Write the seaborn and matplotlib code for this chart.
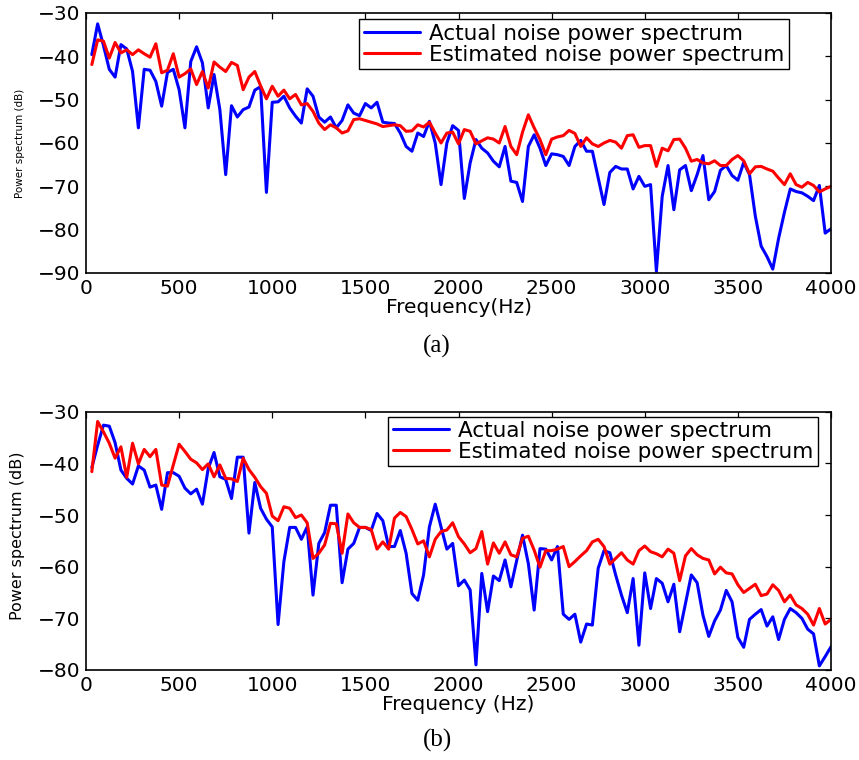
import numpy as np
import pandas as pd
import matplotlib
matplotlib.use("Agg")
import matplotlib.pyplot as plt
import seaborn as sns

# FFT bin centres, 31.25 Hz spacing up to 4 kHz
freq_hz = np.arange(1, 129) * 31.25

# (a) noise power spectra in dB
actual_a = [
    -39.6, -32.5, -37.5, -43.0, -44.8, -37.3, -38.3, -43.5, -56.5, -43.0,
    -43.2, -45.8, -51.5, -43.7, -43.0, -47.7, -56.5, -41.2, -37.8, -41.5,
    -51.9, -44.2, -52.3, -67.3, -51.4, -54.0, -52.3, -51.7, -47.8, -47.0,
    -71.4, -50.6, -50.5, -49.2, -51.9, -53.8, -55.4, -47.5, -49.2, -54.0,
    -55.2, -54.0, -56.5, -54.8, -51.2, -53.1, -53.7, -50.9, -51.9, -50.6,
    -55.2, -55.4, -55.5, -57.7, -60.8, -61.9, -57.7, -58.5, -55.0, -60.0,
    -69.6, -60.0, -56.0, -57.1, -72.8, -64.6, -59.2, -61.2, -62.3, -64.2,
    -65.5, -60.8, -68.8, -69.1, -73.5, -60.8, -58.1, -61.2, -65.2, -62.5,
    -62.7, -63.1, -65.2, -60.8, -59.4, -61.9, -61.9, -68.0, -74.2, -66.8,
    -65.4, -66.0, -66.0, -70.6, -67.7, -70.0, -69.6, -89.6, -72.3, -65.2,
    -75.4, -66.2, -65.2, -71.0, -67.3, -62.9, -73.1, -71.2, -66.3, -65.2,
    -67.5, -68.6, -64.5, -67.3, -76.9, -83.8, -86.2, -89.1, -82.0, -76.0,
    -70.6, -71.2, -71.5, -72.3, -73.3, -69.8, -80.8, -79.8,
]
estimated_a = [
    -41.9, -36.2, -36.5, -40.4, -36.8, -39.2, -38.5, -39.6, -38.5, -39.4,
    -40.2, -37.1, -43.8, -43.2, -39.4, -44.8, -44.0, -42.9, -46.5, -43.5,
    -47.3, -41.3, -42.5, -43.5, -41.4, -42.1, -47.7, -44.8, -43.5, -46.8,
    -49.8, -46.9, -49.2, -47.8, -49.8, -48.8, -51.2, -50.9, -52.7, -55.4,
    -56.9, -55.8, -56.5, -57.7, -57.2, -54.6, -54.4, -54.8, -55.2, -55.6,
    -56.2, -56.0, -55.8, -56.0, -57.3, -57.2, -55.8, -56.3, -55.2, -57.7,
    -60.0, -57.7, -57.5, -60.2, -56.9, -57.3, -60.2, -59.5, -58.8, -59.1,
    -60.0, -56.2, -60.8, -62.7, -57.5, -53.5, -56.5, -59.2, -62.7, -59.1,
    -58.6, -58.3, -57.1, -57.8, -60.8, -58.8, -60.2, -60.8, -60.0, -59.4,
    -59.8, -61.2, -58.3, -58.1, -61.0, -60.6, -60.6, -65.4, -61.2, -61.8,
    -59.2, -59.1, -61.2, -64.2, -63.8, -64.6, -64.8, -64.1, -65.2, -65.2,
    -63.8, -62.9, -64.1, -67.1, -65.5, -65.4, -66.0, -66.5, -68.1, -69.6,
    -67.1, -69.6, -70.2, -69.1, -69.8, -71.3, -70.6, -70.0,
]

# (b) noise power spectra in dB
actual_b = [
    -40.8, -36.5, -32.6, -32.8, -36.0, -41.3, -42.9, -44.0, -40.5, -41.3,
    -44.6, -44.2, -48.9, -41.8, -41.8, -42.5, -44.8, -45.9, -45.0, -47.9,
    -41.0, -37.9, -42.6, -43.1, -46.8, -38.8, -38.8, -53.5, -43.7, -48.7,
    -50.8, -52.3, -71.2, -59.0, -52.4, -52.4, -54.7, -52.3, -65.5, -55.5,
    -53.4, -48.1, -48.1, -63.1, -56.6, -55.5, -52.4, -52.4, -53.0, -49.7,
    -51.1, -56.1, -56.1, -53.0, -57.4, -65.2, -66.5, -61.6, -52.3, -47.9,
    -52.3, -56.6, -55.5, -63.7, -62.6, -64.5, -79.0, -61.3, -68.7, -61.8,
    -62.7, -58.7, -63.9, -58.8, -53.9, -59.4, -68.4, -56.5, -56.6, -58.7,
    -56.1, -69.2, -70.2, -69.2, -74.6, -71.1, -71.3, -60.3, -56.9, -57.3,
    -61.6, -65.5, -68.9, -62.3, -75.2, -61.2, -68.1, -62.3, -63.2, -66.8,
    -63.4, -72.6, -67.1, -61.6, -63.1, -69.4, -73.5, -70.5, -68.4, -64.6,
    -66.8, -73.7, -75.6, -70.2, -69.2, -68.3, -71.5, -69.7, -74.1, -70.2,
    -68.1, -68.9, -70.0, -72.1, -73.0, -79.2, -77.4, -75.5,
]
estimated_b = [
    -41.6, -31.9, -33.9, -36.1, -39.0, -36.8, -42.7, -36.1, -40.1, -37.3,
    -38.7, -37.3, -44.2, -44.4, -40.3, -36.3, -37.7, -39.2, -39.9, -41.2,
    -40.1, -42.6, -40.3, -42.9, -43.0, -43.5, -39.0, -41.2, -42.7, -44.5,
    -45.8, -50.2, -51.1, -48.4, -48.7, -50.5, -50.0, -51.5, -58.4, -57.4,
    -55.8, -51.6, -51.7, -57.4, -49.8, -51.5, -52.4, -52.4, -52.8, -56.6,
    -55.2, -56.6, -50.6, -49.5, -50.3, -52.8, -55.6, -55.0, -58.1, -54.7,
    -53.2, -52.9, -51.5, -54.2, -55.6, -57.3, -56.5, -53.2, -59.5, -55.4,
    -57.4, -55.2, -57.7, -58.1, -54.5, -54.1, -56.8, -60.1, -56.9, -56.9,
    -56.6, -56.1, -60.0, -59.0, -57.9, -56.9, -55.2, -54.7, -56.1, -59.5,
    -58.4, -57.3, -58.7, -59.5, -56.9, -56.0, -57.1, -57.5, -58.1, -56.6,
    -57.4, -62.7, -57.9, -56.5, -57.7, -58.4, -58.7, -61.4, -60.1, -61.2,
    -61.4, -63.5, -65.0, -64.2, -63.4, -65.6, -65.3, -63.5, -64.6, -66.8,
    -65.5, -67.4, -68.1, -69.2, -71.3, -68.1, -71.1, -70.2,
]

series_names = ["Actual noise power spectrum", "Estimated noise power spectrum"]
series_colors = ["#0000ff", "#ff0000"]
x_ticks = [0, 500, 1000, 1500, 2000, 2500, 3000, 3500, 4000]

sns.set_theme(style="white")
plt.rcParams["font.family"] = ["DejaVu Sans"]
plt.rcParams.update({
    "text.color": "black",
    "axes.labelcolor": "black",
    "xtick.color": "black",
    "ytick.color": "black",
    "axes.edgecolor": "black",
    "axes.linewidth": 1.2,
})

fig = plt.figure(figsize=(8.59, 7.6), dpi=100)
W, H = 859.0, 760.0
ax_a = fig.add_axes([86 / W, 1 - 273 / H, 745 / W, 260 / H])
ax_b = fig.add_axes([86 / W, 1 - 670 / H, 745 / W, 258.3 / H])


def draw_panel(ax, actual, estimated, y_ticks, xlabel, ylabel_size,
               ylabel_x, ylabel_y, legend_anchor):
    df = pd.DataFrame({
        "Frequency": np.concatenate([freq_hz, freq_hz]),
        "Power": np.concatenate([actual, estimated]),
        "Series": [series_names[0]] * len(freq_hz) + [series_names[1]] * len(freq_hz),
    })
    sns.lineplot(data=df, x="Frequency", y="Power", hue="Series",
                 palette=dict(zip(series_names, series_colors)),
                 estimator=None, sort=False, linewidth=2.2, ax=ax, legend=False)
    ax.set_xlim(0, 4000)
    ax.set_ylim(y_ticks[0], y_ticks[-1])
    ax.set_xticks(x_ticks)
    ax.set_yticks(y_ticks)
    ax.tick_params(direction="in", top=True, right=True, length=4, width=0.9,
                   labelsize=14.5, pad=4)
    for sp in ax.spines.values():
        sp.set_color("black")
        sp.set_linewidth(1.2)
    ax.set_xlabel(xlabel, fontsize=14.5, labelpad=0)
    ax.set_ylabel("Power spectrum (dB)", fontsize=ylabel_size)
    ax.yaxis.label.set_va("center")
    ax.yaxis.set_label_coords(ylabel_x, ylabel_y)
    leg = ax.legend(ax.get_lines()[:2], series_names, loc="upper right",
                    bbox_to_anchor=legend_anchor, borderaxespad=0,
                    fontsize=15.5, frameon=True, fancybox=False, framealpha=1,
                    edgecolor="black", handlelength=2.6, handletextpad=0.45,
                    borderpad=0.2, labelspacing=0.05)
    leg.get_frame().set_linewidth(1.0)


draw_panel(ax_a, actual_a, estimated_a, [-90, -80, -70, -60, -50, -40, -30],
           "Frequency(Hz)", 7.5, -0.0886, 0.50, (0.9436, 0.976))
draw_panel(ax_b, actual_b, estimated_b, [-80, -70, -60, -50, -40, -30],
           "Frequency (Hz)", 11.5, -0.0913, 0.52, (0.9826, 0.981))

fig.text(437 / W, 1 - 346 / H, "(a)", ha="center", va="center",
         fontsize=18, family=["Liberation Serif"])
fig.text(437 / W, 1 - 740 / H, "(b)", ha="center", va="center",
         fontsize=18, family=["Liberation Serif"])

fig.savefig("out.png", dpi=100)
